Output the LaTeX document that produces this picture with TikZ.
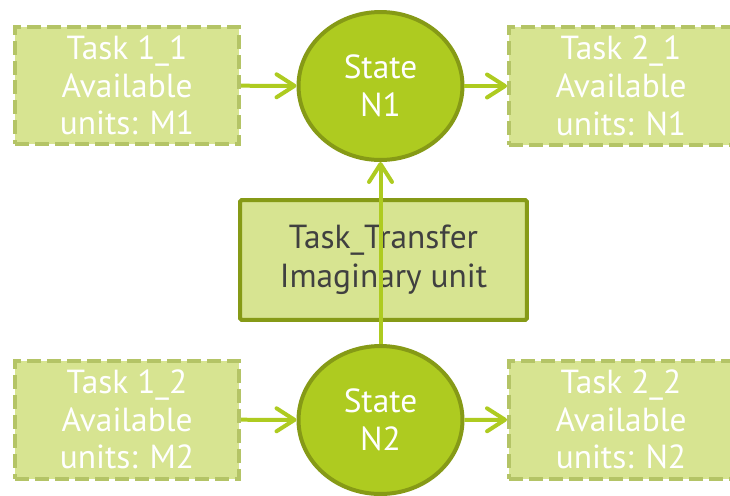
\documentclass[tikz,border=0pt]{standalone}
\usepackage{fontspec}
\setmainfont{PT Sans}
\usepackage{tikz}
\usetikzlibrary{arrows.meta,positioning}
\usetikzlibrary{shapes}

\definecolor{lime}{RGB}{174,203,32}
\definecolor{olive}{RGB}{134,154,22}
\definecolor{pale}{RGB}{215,228,145}
\definecolor{paleedge}{RGB}{180,196,102}
\definecolor{darktext}{RGB}{64,64,64}

\tikzset{
  task/.style={rectangle,draw=paleedge,fill=pale,dashed,dash pattern=on 0.28cm off 0.12cm,
    line width=0.08cm,minimum width=4.48cm,minimum height=2.36cm,align=center,
    text=white,font=\fontsize{19}{21.5}\selectfont},
  stateN/.style={ellipse,draw=olive,fill=lime,line width=0.08cm,
    minimum width=3.28cm,minimum height=2.96cm,align=center,inner sep=0pt,
    text=white,font=\fontsize{19}{21.5}\selectfont},
  transfer/.style={rectangle,draw=olive,fill=pale,line width=0.08cm,rounded corners=1pt,
    minimum width=5.74cm,minimum height=2.4cm,align=center,
    text=darktext,font=\fontsize{19}{22}\selectfont},
  flow/.style={draw=lime,line width=0.08cm,
    -{Straight Barb[length=0.36cm,width=0.46cm,line cap=round,line join=round]}}
}

\begin{document}
\begin{tikzpicture}[x=0.02cm,y=-0.02cm]
  \clip (0,0) rectangle (730,495);
  \useasboundingbox (0,0) rectangle (730,495);

  \node[stateN]     (N1) at (380.5,86)  {State\\N1};
  \node[stateN]     (N2) at (380.5,420) {State\\N2};
  \node[transfer]   (T)  at (383.5,260) {Task\_Transfer\\Imaginary unit};

  \node[task]       (T11) at (127,85.5)  {Task 1\_1\\Available\\units: M1};
  \node[task]       (T21) at (621,86)    {Task 2\_1\\Available\\units: N1};
  \node[task]       (T12) at (127,419.5) {Task 1\_2\\Available\\units: M2};
  \node[task]       (T22) at (621,419.5) {Task 2\_2\\Available\\units: N2};

  \path[flow]
    (T11) edge (N1)
    (N1)  edge (T21)
    (T12) edge (N2)
    (N2)  edge (T22)
    (N2)  edge (N1)
  ;
\end{tikzpicture}
\end{document}
